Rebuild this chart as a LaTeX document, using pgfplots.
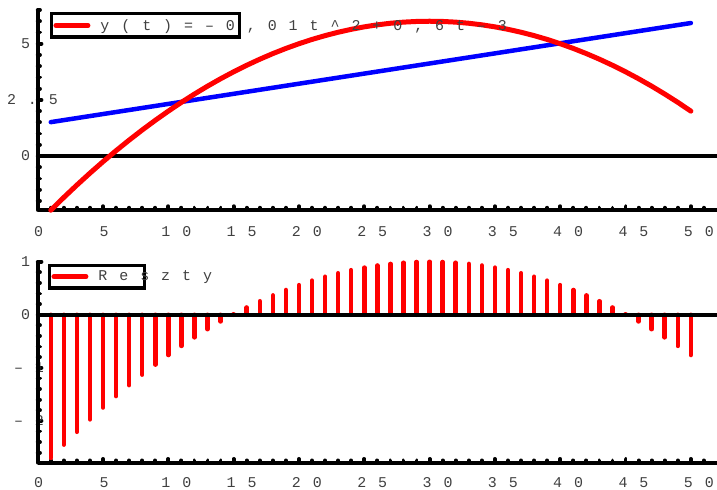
\documentclass[border=0pt]{standalone}
\usepackage{fontspec}
\usepackage{pgfplots}
\pgfplotsset{compat=1.18}
\newfontfamily\spc[LetterSpace=80]{Liberation Mono}
\definecolor{textgray}{HTML}{404040}
\newcommand\tl[2]{\makebox[#1][l]{#2}}
\newcommand\lfont{\spc\fontsize{15}{15}\selectfont}
\pgfplotsset{
  mystyle/.style={
    scale only axis,
    xmin=0, xmax=52,
    axis x line=bottom, axis y line=left,
    axis line style={line width=4bp, -, black},
    tick align=inside,
    tick style={black, line width=3.8bp, line cap=round},
    major tick length=3.8bp, minor tick length=2.3bp,
    xtick={0,5,...,50},
    minor xtick={1,2,3,4,6,7,8,9,11,12,13,14,16,17,18,19,21,22,23,24,26,27,28,29,31,32,33,34,36,37,38,39,41,42,43,44,46,47,48,49,51},
    xticklabels={\tl{7bp}{0},\tl{7bp}{5},\tl{14bp}{10},\tl{14bp}{15},\tl{14bp}{20},\tl{14bp}{25},\tl{14bp}{30},\tl{14bp}{35},\tl{14bp}{40},\tl{14bp}{45},\tl{14bp}{50}},
    tick label style={font=\lfont, text=textgray, inner sep=0pt},
    yticklabel style={anchor=east, xshift=-9.5bp},
    clip=false,
    legend cell align=left,
    legend style={draw=black, line width=3.5bp, fill=white, inner xsep=2bp, inner ysep=3.5bp,
      font=\lfont, text=textgray,
      /tikz/every odd column/.append style={column sep=8bp}},
    legend image code/.code={\draw[red, line width=5bp, line cap=round] (0bp,0bp) -- (32bp,0bp);},
  }
}
\begin{document}
\begin{tikzpicture}
\useasboundingbox (0,0) rectangle (717bp,490bp);
\begin{axis}[mystyle, name=top,
  at={(37.7bp,280bp)}, anchor=south west,
  width=679.3bp, height=200bp,
  ymin=-2.4, ymax=6.5,
  ytick={0,2.5,5},
  minor ytick={-2,-1.5,-1,-0.5,0.5,1,1.5,2,3,3.5,4,4.5,5.5,6,6.5},
  yticklabels={\tl{7bp}{0},\tl{21bp}{2.5},\tl{7bp}{5}},
  xticklabel style={anchor=center, yshift=-22bp},
  legend style={at={(0,1)}, anchor=north west, xshift=12bp, yshift=-2bp},
]
\addplot[black, line width=4bp, forget plot] coordinates {(0,0) (52,0)};
\addplot[blue, line width=4.5bp, line cap=round, forget plot] coordinates {(1,1.51) (50,5.92)};
\addplot[red, line width=5bp, line cap=round, line join=round] coordinates {
(1,-2.41) (2,-1.84) (3,-1.29) (4,-0.76) (5,-0.25) (6,0.24) (7,0.71) (8,1.16) (9,1.59) (10,2.00)
(11,2.39) (12,2.76) (13,3.11) (14,3.44) (15,3.75) (16,4.04) (17,4.31) (18,4.56) (19,4.79) (20,5.00)
(21,5.19) (22,5.36) (23,5.51) (24,5.64) (25,5.75) (26,5.84) (27,5.91) (28,5.96) (29,5.99) (30,6.00)
(31,5.99) (32,5.96) (33,5.91) (34,5.84) (35,5.75) (36,5.64) (37,5.51) (38,5.36) (39,5.19) (40,5.00)
(41,4.79) (42,4.56) (43,4.31) (44,4.04) (45,3.75) (46,3.44) (47,3.11) (48,2.76) (49,2.39) (50,2.00)};
\addlegendentry{\tl{135bp}{y(t)=–0,01t\textasciicircum{}2+0,6t–3}}
\end{axis}
\draw[line width=4bp] (top.south west) -- (top.north west);

\begin{axis}[mystyle, name=bot,
  at={(37.7bp,27.3bp)}, anchor=south west,
  width=679.3bp, height=202bp,
  ymin=-2.79, ymax=1.02,
  ytick={-2,-1,0,1},
  minor ytick={-2.6,-2.4,-2.2,-1.8,-1.6,-1.4,-1.2,-0.8,-0.6,-0.4,-0.2,0.2,0.4,0.6,0.8},
  yticklabels={\tl{14bp}{–2},\tl{14bp}{–1},\tl{7bp}{0},\tl{7bp}{1}},
  xticklabel style={anchor=center, yshift=-19.5bp},
  legend style={at={(0,1)}, anchor=north west, xshift=10bp, yshift=-3bp},
]
\addplot[red, ycomb, line width=4.5bp, line cap=round] coordinates {
(1,-2.700) (2,-2.450) (3,-2.208) (4,-1.974) (5,-1.750) (6,-1.534) (7,-1.328) (8,-1.130) (9,-0.940) (10,-0.760)
(11,-0.588) (12,-0.426) (13,-0.272) (14,-0.126) (15,0.010) (16,0.138) (17,0.256) (18,0.366) (19,0.468) (20,0.560)
(21,0.644) (22,0.718) (23,0.784) (24,0.842) (25,0.890) (26,0.930) (27,0.960) (28,0.982) (29,0.996) (30,1.000)
(31,0.996) (32,0.982) (33,0.960) (34,0.930) (35,0.890) (36,0.842) (37,0.784) (38,0.718) (39,0.644) (40,0.560)
(41,0.468) (42,0.366) (43,0.256) (44,0.138) (45,0.010) (46,-0.126) (47,-0.272) (48,-0.426) (49,-0.588) (50,-0.760)};
\addlegendentry{\tl{42bp}{Reszty}}
\addplot[black, line width=4bp, forget plot] coordinates {(0,0) (52,0)};
\end{axis}
\draw[line width=4bp] (bot.south west) -- (bot.north west);
\end{tikzpicture}
\end{document}
